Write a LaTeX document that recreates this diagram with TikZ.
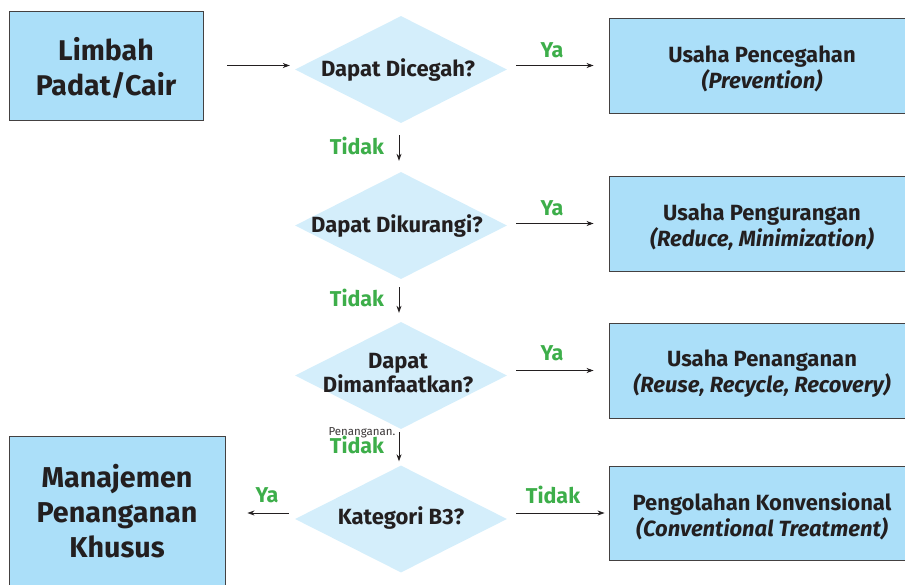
\documentclass[tikz,border=0pt]{standalone}
\usepackage{fontspec}
\setmainfont{Fira Sans}
\usetikzlibrary{shapes.geometric,arrows.meta}
\definecolor{boxfill}{HTML}{ABDFF9}
\definecolor{diafill}{HTML}{D4EEFB}
\definecolor{yagreen}{HTML}{3DAE4A}
\definecolor{ink}{HTML}{231F20}
\tikzset{
  box/.style={draw=ink!85, line width=0.9pt, fill=boxfill, rectangle, inner sep=0pt},
  btext/.style={text=ink, align=center, inner sep=0pt},
  big/.style={font=\fontsize{28.5}{35}\selectfont\bfseries},
  bigger/.style={font=\fontsize{28.7}{35}\selectfont\bfseries},
  mid/.style={font=\fontsize{22}{25.5}\selectfont\bfseries},
  dia/.style={diamond, fill=diafill, draw=none, inner sep=0pt, minimum width=212pt, minimum height=107pt},
  dtext/.style={text=ink, align=center, font=\fontsize{22}{24}\selectfont\bfseries, inner sep=0pt},
  lab/.style={text=yagreen, font=\fontsize{21.5}{24}\selectfont\bfseries, inner sep=0pt},
  arr/.style={draw=ink, line width=0.8pt, -{Stealth[length=7pt,width=5pt]}},
}
\begin{document}
\begin{tikzpicture}[x=1pt,y=-1pt]
\useasboundingbox (0,0) rectangle (905,584);
\clip (0,0) rectangle (905,584);
% left boxes
\node[box,minimum width=194pt,minimum height=109pt] (limbah) at (106,65.5) {};
\node[btext,big] (limbaht) at (106,68.5) {Limbah\\Padat/Cair};
\node[box,minimum width=216pt,minimum height=152pt] (mj) at (117,512) {};
\node[btext,bigger] (mjt) at (117,511) {Manajemen\\Penanganan\\Khusus};
% diamonds
\node[dia] (d1) at (401,69.5) {};
\node[dia] (d2) at (401,225.5) {};
\node[dia] (d3) at (401,375.5) {};
\node[dia] (d4) at (401,519) {};
\node[dtext] (t1) at (398,70) {Dapat Dicegah?};
\node[dtext] (t2) at (397,226.5) {Dapat Dikurangi?};
\node[dtext] (t3) at (398,373.5) {Dapat\\Dimanfaatkan?};
\node[dtext] (t4) at (401,518.5) {Kategori B3?};
% right boxes
\node[box,minimum width=306pt,minimum height=95pt] (b1) at (762,65.5) {};
\node[box,minimum width=306pt,minimum height=95pt] (b2) at (762,223.5) {};
\node[box,minimum width=306pt,minimum height=95pt] (b3) at (762,370.5) {};
\node[box,minimum width=306pt,minimum height=94pt] (b4) at (762,513) {};
\node[btext,mid] (b1t) at (762,69) {Usaha Pencegahan\\\textit{(Prevention)}};
\node[btext,mid] (b2t) at (762,227) {Usaha Pengurangan\\\textit{(Reduce, Minimization)}};
\node[btext,mid] (b3t) at (762,373.5) {Usaha Penanganan\\\textit{(Reuse, Recycle, Recovery)}};
\node[btext,mid] (b4t) at (762,516.5) {Pengolahan Konvensional\\\textit{(Conventional Treatment)}};
% horizontal arrows
\draw[arr, shorten <=24pt, shorten >=5pt] (limbah.east) -- (limbah.east -| d1.west);
\draw[arr, shorten <=9pt, shorten >=15pt] (d1.east |- b1) -- (b1.west);
\draw[arr, shorten <=9pt, shorten >=15pt] (d2.east |- b2) -- (b2.west);
\draw[arr, shorten <=9pt, shorten >=15pt] (d3.east |- b3) -- (b3.west);
\draw[arr, shorten <=9pt, shorten >=4pt] (d4.east |- b4) -- (b4.west);
\draw[arr, shorten <=6pt, shorten >=22pt] (d4.west |- b4) -- (b4 -| mj.east);
% vertical arrows
\draw[arr, shorten <=12pt, shorten >=11pt] ([xshift=-2pt]d1.south) -- ([xshift=-2pt]d2.north);
\draw[arr, shorten <=8pt, shorten >=9pt] ([xshift=-2pt]d2.south) -- ([xshift=-2pt]d3.north);
\draw[arr, shorten <=3pt, shorten >=4pt] ([xshift=-2pt]d3.south) -- ([xshift=-2pt]d4.north);
% labels
\node[lab] (ya1) at (552,50) {Ya};
\node[lab] (ya2) at (552,208) {Ya};
\node[lab] (ya3) at (552,353) {Ya};
\node[lab] (ya4) at (267,495) {Ya};
\node[lab] (td4) at (553,495) {Tidak};
\node[lab] (td1) at (357,146) {Tidak};
\node[lab] (td2) at (357,298) {Tidak};
\node[lab] (td3) at (357,445) {Tidak};
\node[text=ink!90, font=\fontsize{11.5}{13}\selectfont, inner sep=0pt] (pen) at (362,433) {Penanganan.};
\end{tikzpicture}
\end{document}
